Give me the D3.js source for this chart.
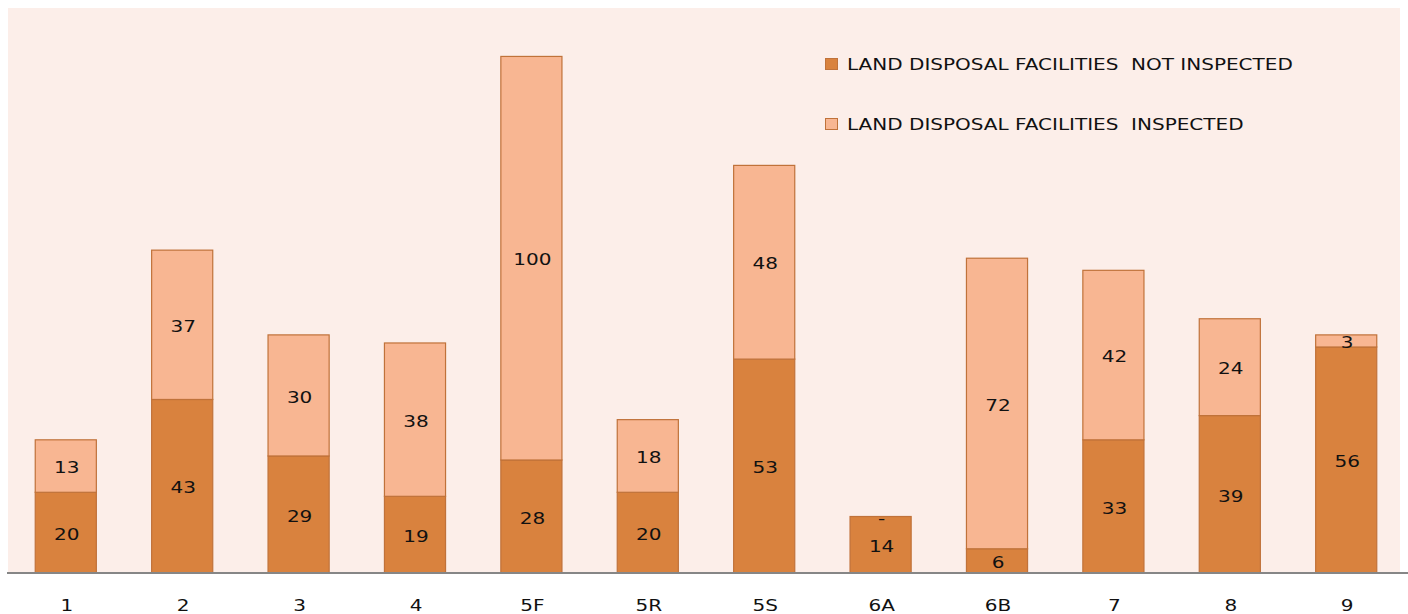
<!DOCTYPE html>
<html>
<head>
<meta charset="utf-8">
<script src="https://cdn.jsdelivr.net/npm/d3@7"></script>
<style>
  body { margin: 0; background: #fff; }
  svg { display: block; }
</style>
</head>
<body>
<div id="chart"></div>
<script>
// data
const regions = ["1", "2", "3", "4", "5F", "5R", "5S", "6A", "6B", "7", "8", "9"];
const notInspected = [20, 43, 29, 19, 28, 20, 53, 14, 6, 33, 39, 56];
const inspected = [13, 37, 30, 38, 100, 18, 48, 0, 72, 42, 24, 3];
const seriesNames = ["LAND DISPOSAL FACILITIES  NOT INSPECTED", "LAND DISPOSAL FACILITIES  INSPECTED"];
const seriesColors = ["#D9823E", "#F8B692"];

const fontFamily = "DejaVu Sans, Verdana, sans-serif";
const stretch = "scale(1.25,1)"; // the original font is drawn wide

const dimensions = {
  width: 1408,
  height: 614,
  margins: { top: 8, right: 4, bottom: 41, left: 8 }
};
dimensions.boundedWidth = dimensions.width - dimensions.margins.left - dimensions.margins.right;
dimensions.boundedHeight = dimensions.height - dimensions.margins.top - dimensions.margins.bottom;

const table = regions.map((r, i) => ({ region: r, not: notInspected[i], ins: inspected[i] }));
const stacked = d3.stack().keys(["not", "ins"])(table);

const wrapper = d3.select("#chart")
  .append("svg")
  .attr("width", dimensions.width)
  .attr("height", dimensions.height);

// plot background
wrapper.append("rect")
  .attr("x", dimensions.margins.left)
  .attr("y", dimensions.margins.top)
  .attr("width", 1392)
  .attr("height", dimensions.boundedHeight)
  .attr("fill", "#FCEEE9");

const bounds = wrapper.append("g")
  .attr("transform", `translate(${dimensions.margins.left},${dimensions.margins.top})`);

const xScale = d3.scaleBand()
  .domain(regions)
  .range([0, dimensions.boundedWidth])
  .paddingInner(0.475)
  .paddingOuter(0.234);

const yScale = d3.scaleLinear()
  .domain([0, 140])
  .range([dimensions.boundedHeight, 0]);

// bars
const layers = bounds.selectAll(".layer")
  .data(stacked)
  .join("g")
  .attr("class", "layer")
  .attr("fill", (d, i) => seriesColors[i]);

layers.selectAll("rect")
  .data(d => d)
  .join("rect")
  .attr("x", d => xScale(d.data.region))
  .attr("y", d => yScale(d[1]))
  .attr("width", xScale.bandwidth())
  .attr("height", d => yScale(d[0]) - yScale(d[1]))
  .attr("stroke", "#C0723A")
  .attr("stroke-width", 1.2);

// value labels
layers.selectAll("text")
  .data(d => d)
  .join("text")
  .attr("transform", d => {
    const x = xScale(d.data.region) + xScale.bandwidth() / 2 + 1;
    const y = (yScale(d[0]) + yScale(d[1])) / 2 + 1.5;
    return `translate(${x},${y}) ${stretch}`;
  })
  .attr("text-anchor", "middle")
  .attr("dominant-baseline", "central")
  .attr("font-family", fontFamily)
  .attr("font-size", 16)
  .attr("fill", "#111")
  .text(d => (d[1] - d[0]) === 0 ? "-" : d[1] - d[0]);

// x axis
const xAxis = d3.axisBottom(xScale).tickSize(0).tickPadding(27);
bounds.append("g")
  .attr("transform", `translate(0,${dimensions.boundedHeight})`)
  .call(xAxis)
  .call(g => g.select(".domain").remove())
  .call(g => g.selectAll("text")
    .attr("font-family", fontFamily)
    .attr("font-size", 16)
    .attr("fill", "#111")
    .attr("transform", `translate(1,0) ${stretch}`));

wrapper.append("line")
  .attr("x1", 7)
  .attr("x2", dimensions.width)
  .attr("y1", dimensions.margins.top + dimensions.boundedHeight)
  .attr("y2", dimensions.margins.top + dimensions.boundedHeight)
  .attr("stroke", "#868686")
  .attr("stroke-width", 2);

// legend
const legend = wrapper.append("g")
  .attr("transform", "translate(825,57)");

const legendItem = legend.selectAll("g")
  .data(seriesNames)
  .join("g")
  .attr("transform", (d, i) => `translate(0,${i * 60})`);

legendItem.append("rect")
  .attr("x", 0.5)
  .attr("y", 1.5)
  .attr("width", 12)
  .attr("height", 11)
  .attr("fill", (d, i) => seriesColors[i])
  .attr("stroke", "#C0723A")
  .attr("stroke-width", 1);

legendItem.append("text")
  .attr("transform", `translate(22,12.5) ${stretch}`)
  .attr("font-family", fontFamily)
  .attr("font-size", 16)
  .attr("fill", "#111")
  .attr("xml:space", "preserve")
  .text(d => d);
</script>
</body>
</html>
